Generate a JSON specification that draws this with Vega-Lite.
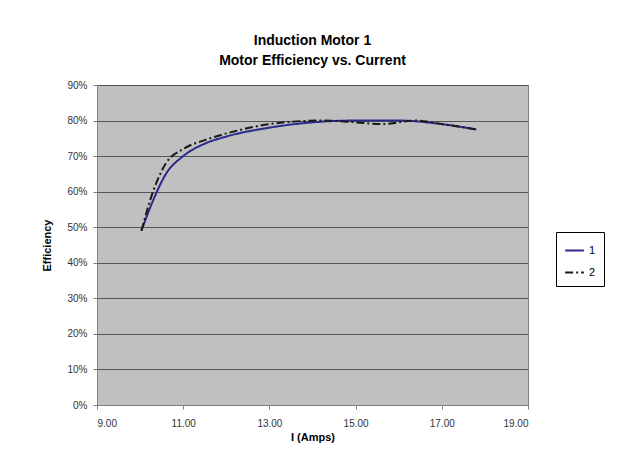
{
  "$schema": "https://vega.github.io/schema/vega-lite/v6.json",
  "autosize": "none",
  "width": 431,
  "height": 320,
  "padding": {"left": 97, "top": 85, "right": 98, "bottom": 52},
  "background": "white",
  "title": {
    "text": ["Induction Motor 1", "Motor Efficiency vs. Current"],
    "font": "Liberation Sans",
    "fontSize": 14,
    "fontWeight": "bold",
    "color": "#000000",
    "anchor": "middle",
    "offset": 12,
    "lineHeight": 20
  },
  "data": {
    "values": [
      {"amps": 10.03, "eff": 0.49, "series": "1"},
      {"amps": 10.3, "eff": 0.575, "series": "1"},
      {"amps": 10.6, "eff": 0.65, "series": "1"},
      {"amps": 11.0, "eff": 0.70, "series": "1"},
      {"amps": 11.5, "eff": 0.735, "series": "1"},
      {"amps": 12.0, "eff": 0.755, "series": "1"},
      {"amps": 13.0, "eff": 0.78, "series": "1"},
      {"amps": 14.0, "eff": 0.795, "series": "1"},
      {"amps": 15.0, "eff": 0.80, "series": "1"},
      {"amps": 16.0, "eff": 0.80, "series": "1"},
      {"amps": 17.0, "eff": 0.79, "series": "1"},
      {"amps": 17.8, "eff": 0.775, "series": "1"},
      {"amps": 10.03, "eff": 0.49, "series": "2"},
      {"amps": 10.3, "eff": 0.60, "series": "2"},
      {"amps": 10.6, "eff": 0.68, "series": "2"},
      {"amps": 11.0, "eff": 0.72, "series": "2"},
      {"amps": 11.5, "eff": 0.745, "series": "2"},
      {"amps": 12.2, "eff": 0.77, "series": "2"},
      {"amps": 13.0, "eff": 0.79, "series": "2"},
      {"amps": 14.2, "eff": 0.80, "series": "2"},
      {"amps": 15.0, "eff": 0.795, "series": "2"},
      {"amps": 15.6, "eff": 0.79, "series": "2"},
      {"amps": 16.4, "eff": 0.80, "series": "2"},
      {"amps": 17.0, "eff": 0.79, "series": "2"},
      {"amps": 17.8, "eff": 0.775, "series": "2"}
    ]
  },
  "mark": {"type": "line", "interpolate": "monotone", "strokeWidth": 2},
  "encoding": {
    "x": {
      "field": "amps",
      "type": "quantitative",
      "scale": {"domain": [9, 19], "nice": false, "zero": false},
      "axis": {
        "title": "I (Amps)",
        "values": [9, 11, 13, 15, 17, 19],
        "format": ".2f",
        "grid": false,
        "domainColor": "#808080",
        "tickColor": "#808080",
        "tickSize": 4,
        "labelFont": "Liberation Sans",
        "labelFontSize": 10,
        "labelColor": "#333333",
        "labelPadding": 9,
        "titleFont": "Liberation Sans",
        "titleFontSize": 11,
        "titleFontWeight": "bold",
        "titleColor": "#000000",
        "titlePadding": 3
      }
    },
    "y": {
      "field": "eff",
      "type": "quantitative",
      "scale": {"domain": [0, 0.9], "nice": false},
      "axis": {
        "title": "Efficiency",
        "values": [0, 0.1, 0.2, 0.3, 0.4, 0.5, 0.6, 0.7, 0.8, 0.9],
        "format": ".0%",
        "grid": true,
        "gridColor": "#555555",
        "gridWidth": 1,
        "domainColor": "#808080",
        "tickColor": "#808080",
        "tickSize": 4,
        "labelFont": "Liberation Sans",
        "labelFontSize": 10,
        "labelColor": "#333333",
        "labelPadding": 6,
        "titleFont": "Liberation Sans",
        "titleFontSize": 11,
        "titleFontWeight": "bold",
        "titleColor": "#000000",
        "titlePadding": 14
      }
    },
    "color": {
      "field": "series",
      "type": "nominal",
      "scale": {"domain": ["1", "2"], "range": ["#2a2a8c", "#1a1a1a"]},
      "legend": {
        "title": null,
        "orient": "none",
        "legendX": 459,
        "legendY": 147,
        "symbolType": "stroke",
        "symbolStrokeWidth": 2,
        "symbolSize": 350,
        "labelFont": "Liberation Sans",
        "labelFontSize": 11,
        "labelColor": "#000000",
        "strokeColor": "#000000",
        "padding": 8,
        "rowPadding": 6,
        "fillColor": "white"
      }
    },
    "strokeDash": {
      "field": "series",
      "type": "nominal",
      "scale": {"domain": ["1", "2"], "range": [[1, 0], [8, 3, 2, 3]]},
      "legend": null
    }
  },
  "config": {
    "view": {"fill": "#c0c0c0", "stroke": "#808080", "strokeWidth": 1}
  }
}
